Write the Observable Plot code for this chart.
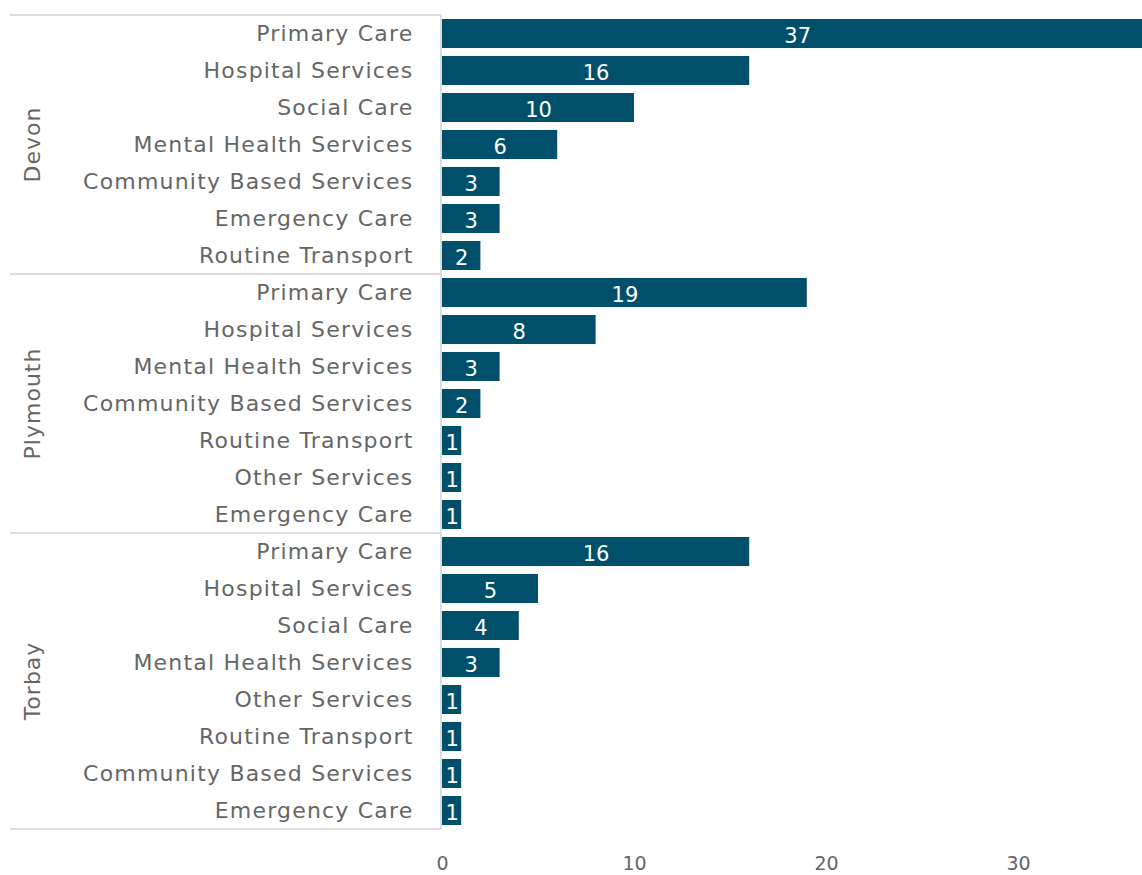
<!DOCTYPE html>
<html><head><meta charset="utf-8">
<script src="https://cdn.jsdelivr.net/npm/d3@7"></script>
<script src="https://cdn.jsdelivr.net/npm/@observablehq/plot@0.6"></script>
<style>body{margin:0;background:#fff} svg{display:block}</style>
</head><body><div id="chart"></div>
<script>
const groups = ["Devon", "Plymouth", "Torbay"];
const devonCategories = ["Primary Care","Hospital Services","Social Care","Mental Health Services","Community Based Services","Emergency Care","Routine Transport"];
const devonValues = [37,16,10,6,3,3,2];
const plymouthCategories = ["Primary Care","Hospital Services","Mental Health Services","Community Based Services","Routine Transport","Other Services","Emergency Care"];
const plymouthValues = [19,8,3,2,1,1,1];
const torbayCategories = ["Primary Care","Hospital Services","Social Care","Mental Health Services","Other Services","Routine Transport","Community Based Services","Emergency Care"];
const torbayValues = [16,5,4,3,1,1,1,1];
const xTicks = [0, 10, 20, 30];

const FONT = "'DejaVu Sans', sans-serif";
const TEXT = "#666666";
const BAR = "#00506b";
const LINE = "#dddddd";

const groupCats = [devonCategories, plymouthCategories, torbayCategories];
const groupVals = [devonValues, plymouthValues, torbayValues];
const rows = [];
groups.forEach((g, gi) => groupCats[gi].forEach((c, i) => rows.push({group: g, category: c, value: groupVals[gi][i], key: g + "|" + c})));
const keys = rows.map(d => d.key);

const W = 1142, H = 875, ML = 442;
const plot = Plot.plot({
  width: W, height: H,
  marginLeft: ML, marginRight: 0, marginTop: 14.5, marginBottom: 46.5,
  style: {fontFamily: FONT, background: "#fff", overflow: "visible"},
  x: {domain: [0, (W - ML) / 19.2], ticks: xTicks, label: null},
  y: {domain: keys, paddingInner: 0.22, paddingOuter: 0.11, label: null},
  marks: [
    Plot.barX(rows, {x: "value", y: "key", fill: BAR, clip: true}),
    Plot.text(rows, {x: d => d.value / 2, y: "key", text: d => String(d.value), fill: "white", fontSize: 21, dy: 2}),
    Plot.axisX({ticks: xTicks, tickSize: 0, tickPadding: 27, fontSize: 19, color: TEXT, tickFormat: d => String(d)}),
    Plot.axisY({tickSize: 0, tickPadding: 29, fontSize: 22, color: TEXT, tickFormat: k => k.split("|")[1]})
  ]
});
document.getElementById("chart").appendChild(plot);

const svg = d3.select(plot);
svg.selectAll('[aria-label="y-axis tick label"] text').attr("letter-spacing", 1.2);

const ys = plot.scale("y");
const step = ys.step, bw = ys.bandwidth, half = (step - bw) / 2;
const xs = plot.scale("x");
const xLine = xs.apply(0) - 1;
const deco = svg.append("g");
let top0 = null, bottom0 = null;
groups.forEach((g, gi) => {
  const cats = groupCats[gi];
  const t = ys.apply(g + "|" + cats[0]) - half;
  const b = ys.apply(g + "|" + cats[cats.length - 1]) + bw + half;
  if (top0 === null) top0 = t;
  bottom0 = b;
  deco.append("line").attr("x1", 10).attr("x2", xLine).attr("y1", t).attr("y2", t).attr("stroke", LINE).attr("stroke-width", 2);
  if (gi === groups.length - 1) deco.append("line").attr("x1", 10).attr("x2", xLine).attr("y1", b).attr("y2", b).attr("stroke", LINE).attr("stroke-width", 2);
  const cy = (t + b) / 2;
  deco.append("text").attr("transform", `translate(40,${cy}) rotate(-90)`).attr("text-anchor", "middle")
    .attr("font-family", FONT).attr("font-size", 22).attr("letter-spacing", 1).attr("fill", TEXT).text(g);
});
deco.append("line").attr("x1", xLine).attr("x2", xLine).attr("y1", top0).attr("y2", bottom0).attr("stroke", LINE).attr("stroke-width", 2);
</script></body></html>
